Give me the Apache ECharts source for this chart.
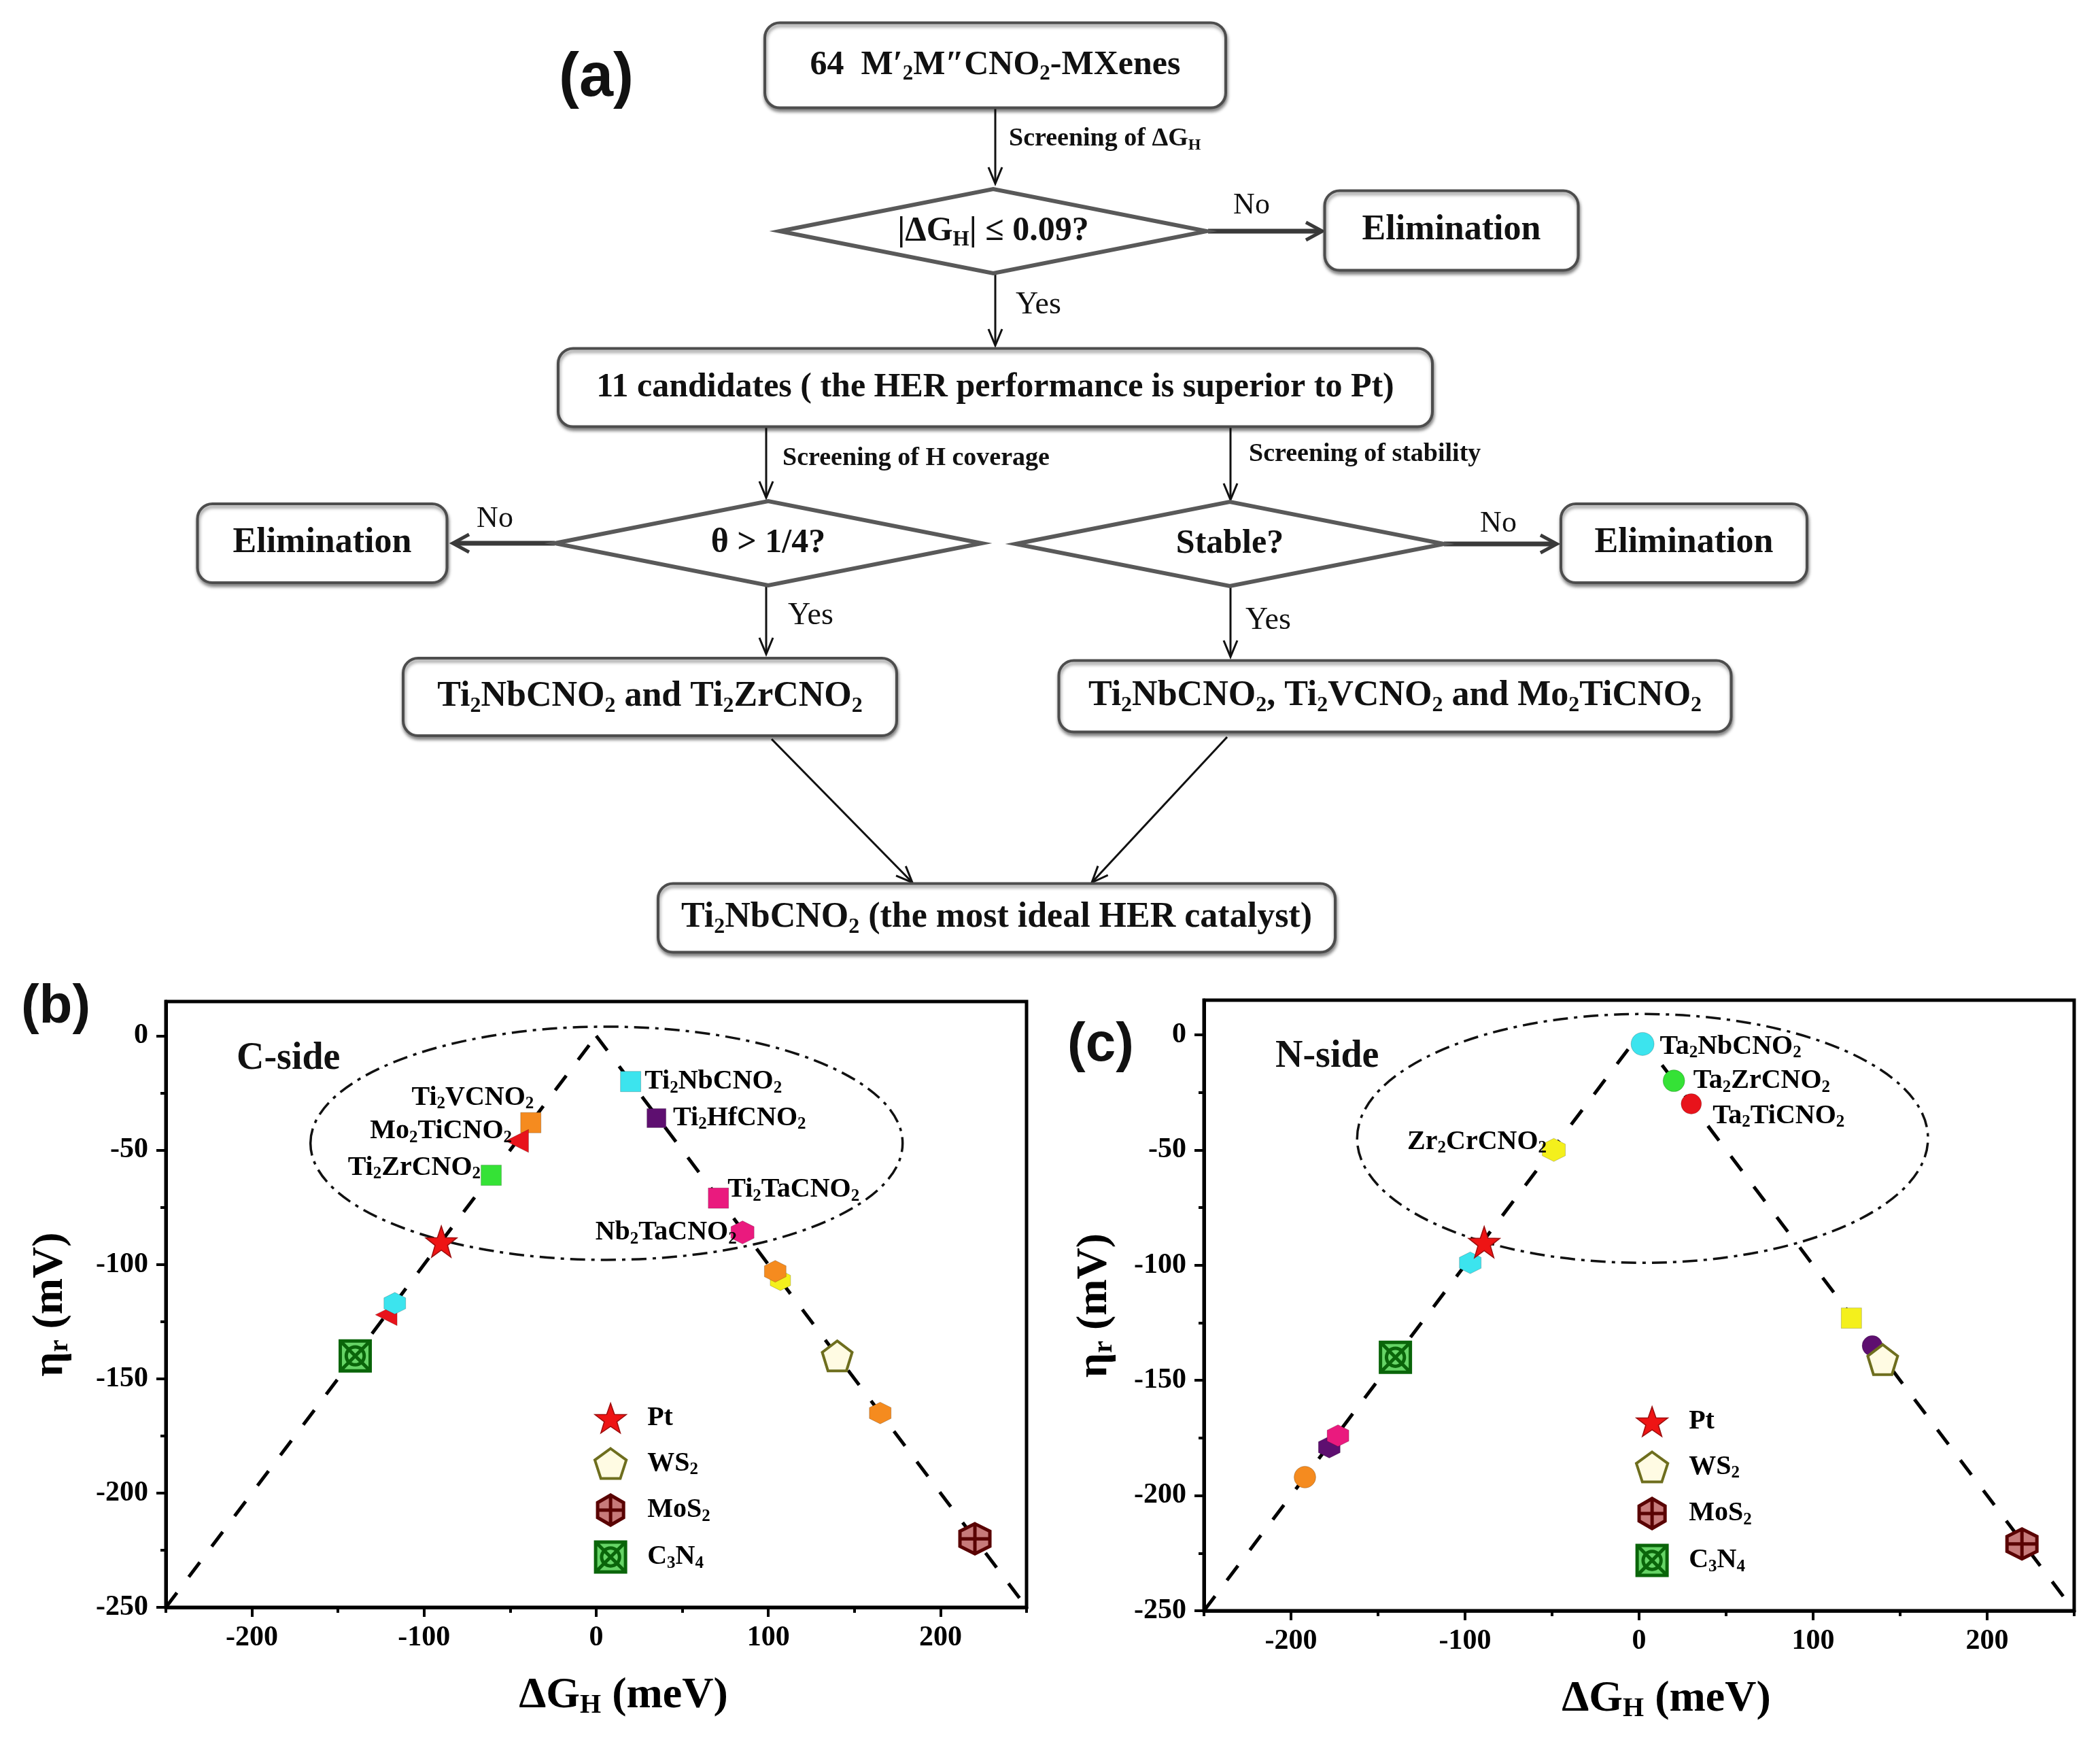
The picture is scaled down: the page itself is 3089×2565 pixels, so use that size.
<!DOCTYPE html>
<html>
<head>
<meta charset="utf-8">
<title>HER screening of MXenes</title>
<script src="https://cdn.jsdelivr.net/npm/echarts@6.0.0/dist/echarts.min.js"></script>
<style>
html,body{margin:0;padding:0;background:#ffffff;}
#main{width:3089px;height:2565px;}
</style>
</head>
<body>
<div id="main"></div>
<script>
// ================= DATA =================
const xRange = [-250, 250];
const yRange = [-250, 15];
const xTickValues = [-200, -100, 0, 100, 200];
const xMinorTickValues = [-250, -150, -50, 50, 150, 250];
const yTickValues = [-250, -200, -150, -100, -50, 0];
const yMinorTickValues = [-225, -175, -125, -75, -25];

// guide lines  eta = -|dG|
const guideLeft = [[-250, -250], [0, 0]];
const guideRight = [[0, 0], [250, -250]];

// (b) C-side
const cSideLabels = ['Ti2NbCNO2', 'Ti2HfCNO2', 'Ti2VCNO2', 'Mo2TiCNO2', 'Ti2ZrCNO2', 'Ti2TaCNO2', 'Nb2TaCNO2', '', '', '', '', ''];
const cSideDG  = [20, 35, -38, -46, -61, 71, 85, 107, 104, -122, -117, 165];
const cSideEta = [-20, -36, -38, -46, -61, -71, -86, -107, -103, -122, -117, -165];

// (c) N-side
const nSideLabels = ['Ta2NbCNO2', 'Ta2ZrCNO2', 'Ta2TiCNO2', 'Zr2CrCNO2', '', '', '', '', '', ''];
const nSideDG  = [2, 20, 30, -49, -97, -178, -173, -192, 122, 134];
const nSideEta = [-4, -20, -30, -50, -99, -179, -174, -192, -123, -135];

// reference catalysts
const refNames = ['Pt', 'WS2', 'MoS2', 'C3N4'];
const refDG_C  = [-90, 140, 220, -140];
const refEta_C = [-90, -140, -220, -140];
const refDG_N  = [-89, 140, 220, -140];
const refEta_N = [-90, -141, -221, -140];

// highlighted region (centre dG, centre eta, half-width, half-height)
const ellipseC = [6, -47, 172, 51];
const ellipseN = [2, -45, 164, 54];

// ================= STYLES =================
const FONT = 'Liberation Serif';
const C_CYAN = '#3ce4ee', C_PURPLE = '#5e0f70', C_ORANGE = '#f58b1f', C_RED = '#e8131b',
      C_GREEN = '#35e236', C_PINK = '#ea1a7e', C_YELLOW = '#f4f01c';
const P_STAR = 'path://M0,-10 L2.35,-3.24 L9.51,-3.09 L3.8,1.24 L5.88,8.09 L0,4 L-5.88,8.09 L-3.8,1.24 L-9.51,-3.09 L-2.35,-3.24 Z';
const P_PENT = 'path://M0,-10 L9.51,-3.09 L5.88,8.09 L-5.88,8.09 L-9.51,-3.09 Z';
const P_HEX = 'path://M0,-10 L8.66,-5 L8.66,5 L0,10 L-8.66,5 L-8.66,-5 Z';
const P_HEXCROSS = 'path://M0,-10 L8.66,-5 L8.66,5 L0,10 L-8.66,5 L-8.66,-5 Z M0,-10 L0,10 M-8.66,0 L8.66,0';
const P_SQX = 'path://M-10,-10 L10,-10 L10,10 L-10,10 Z M-10,-10 L10,10 M10,-10 L-10,10 M6,0 A6,6 0 1,1 -6,0 A6,6 0 1,1 6,0';
const P_TRI_L = 'path://M-10,0 L8,-9 L8,9 Z';

const cSideStyle = [
  {symbol: 'rect', size: 30, color: C_CYAN, pos: 'right', off: [0, 0]},
  {symbol: 'rect', size: 28, color: C_PURPLE, pos: 'right', off: [5, 0]},
  {symbol: 'rect', size: 30, color: C_ORANGE, pos: 'left', off: [25, -37]},
  {symbol: P_TRI_L, size: 34, color: C_RED, pos: 'left', off: [15, -14]},
  {symbol: 'rect', size: 30, color: C_GREEN, pos: 'left', off: [5, -11]},
  {symbol: 'rect', size: 30, color: C_PINK, pos: 'right', off: [-7, -12]},
  {symbol: P_HEX, size: 34, color: C_PINK, pos: 'left', off: [14, 0]},
  {symbol: P_HEX, size: 30, color: C_YELLOW},
  {symbol: P_HEX, size: 32, color: C_ORANGE},
  {symbol: P_TRI_L, size: 32, color: C_RED},
  {symbol: P_HEX, size: 32, color: C_CYAN},
  {symbol: P_HEX, size: 32, color: C_ORANGE}
];
const nSideStyle = [
  {symbol: 'circle', size: 34, color: C_CYAN, pos: 'right', off: [3, 4]},
  {symbol: 'circle', size: 32, color: C_GREEN, pos: 'right', off: [7, 0]},
  {symbol: 'circle', size: 30, color: C_RED, pos: 'right', off: [11, 18]},
  {symbol: P_HEX, size: 34, color: C_YELLOW, pos: 'left', off: [12, -12]},
  {symbol: P_HEX, size: 32, color: C_CYAN},
  {symbol: P_HEX, size: 32, color: C_PURPLE},
  {symbol: P_HEX, size: 32, color: C_PINK},
  {symbol: 'circle', size: 32, color: C_ORANGE},
  {symbol: 'rect', size: 30, color: C_YELLOW},
  {symbol: 'circle', size: 30, color: C_PURPLE}
];
const refStyle = {
  Pt:   {symbol: P_STAR, size: 46, item: {color: '#ee1414', borderColor: '#9b0d0d', borderWidth: 1.5, opacity: 1}},
  WS2:  {symbol: P_PENT, size: 44, item: {color: '#fffbe3', borderColor: '#6e6e1e', borderWidth: 4, opacity: 1}},
  MoS2: {symbol: P_HEXCROSS, size: 44, item: {color: '#c77a7a', borderColor: '#5a0303', borderWidth: 5, opacity: 1}},
  C3N4: {symbol: P_SQX, size: 44, item: {color: '#66d466', borderColor: '#0a650a', borderWidth: 5, opacity: 1}}
};

// ================= HELPERS =================
function toRich(str) {
  return str.split(/(\d+)/).filter(s => s.length).map(s => /^\d+$/.test(s) ? '{s|' + s + '}' : '{n|' + s + '}').join('');
}
function labelRich(F, color, weight) {
  return {
    n: {fontSize: F, fontFamily: FONT, fontWeight: weight || 'bold', color: color || '#000', lineHeight: Math.round(F * 1.1)},
    s: {fontSize: Math.round(F * 0.62), fontFamily: FONT, fontWeight: weight || 'bold', color: color || '#000', lineHeight: Math.round(F * 0.62), verticalAlign: 'bottom'}
  };
}
function zrRich(F, weight) {
  return {
    n: {fontSize: F, fontFamily: FONT, fontWeight: weight || 'bold', fill: '#111', lineHeight: Math.round(F * 1.15)},
    s: {fontSize: Math.round(F * 0.62), fontFamily: FONT, fontWeight: weight || 'bold', fill: '#111', lineHeight: Math.round(F * 0.62), verticalAlign: 'bottom'}
  };
}

// ================= FLOWCHART (panel a) =================
const G = [];
function txt(x, y, rich, F, align, weight) {
  return {type: 'text', x: x, y: y, z: 20,
    style: {text: rich, rich: zrRich(F, weight), align: align || 'center', verticalAlign: 'middle',
      fill: '#111', fontSize: F, fontFamily: FONT, fontWeight: weight || 'bold'}};
}
function box(cx, cy, w, h, text, F) {
  G.push({type: 'rect', z: 10, shape: {x: cx - w / 2, y: cy - h / 2, width: w, height: h, r: 22},
    style: {fill: '#fff', stroke: '#4d4d4d', lineWidth: 4, shadowColor: 'rgba(0,0,0,0.45)', shadowBlur: 5, shadowOffsetY: 4, shadowOffsetX: 1}});
  G.push(txt(cx, cy, text, F));
}
function diamond(cx, cy, hw, hh, text, F) {
  G.push({type: 'polygon', z: 10, shape: {points: [[cx - hw, cy], [cx, cy - hh], [cx + hw, cy], [cx, cy + hh]]},
    style: {fill: '#fff', stroke: '#595959', lineWidth: 6, lineJoin: 'miter'}});
  G.push(txt(cx, cy, text, F));
}
function arrow(x1, y1, x2, y2, w, col, hl, hw, hwidth) {
  const dx = x2 - x1, dy = y2 - y1, L = Math.hypot(dx, dy), ux = dx / L, uy = dy / L;
  const bx = x2 - ux * hl, by = y2 - uy * hl, px = -uy, py = ux;
  G.push({type: 'line', z: 5, shape: {x1: x1, y1: y1, x2: x2 - ux * 2, y2: y2 - uy * 2}, style: {stroke: col, lineWidth: w}});
  G.push({type: 'polyline', z: 5, shape: {points: [[bx + px * hw, by + py * hw], [x2, y2], [bx - px * hw, by - py * hw]]},
    style: {stroke: col, lineWidth: hwidth || w, fill: null, lineJoin: 'miter'}});
}
const thin = '#111', thick = '#3a3a3a';

box(1464, 96, 678, 125, '{n|64  M′}{s|2}{n|M″CNO}{s|2}{n|-MXenes}', 50);
arrow(1464, 160, 1464, 270, 3, thin, 24, 10);
G.push(txt(1484, 204, '{n|Screening of ΔG}{s|H}', 38, 'left'));
diamond(1461, 340, 314, 62, '{n||ΔG}{s|H}{n|| ≤ 0.09?}', 50);
arrow(1777, 340, 1945, 340, 7, thick, 24, 13, 5);
G.push(txt(1841, 302, '{n|No}', 44, 'center', 'normal'));
box(2135, 339, 373, 117, '{n|Elimination}', 52);
arrow(1464, 404, 1464, 508, 3, thin, 24, 10);
G.push(txt(1494, 449, '{n|Yes}', 46, 'left', 'normal'));
box(1464, 570, 1286, 115, '{n|11 candidates ( the HER performance is superior to Pt)}', 50);
arrow(1127, 628, 1127, 732, 3, thin, 24, 10);
arrow(1810, 628, 1810, 735, 3, thin, 24, 10);
G.push(txt(1151, 674, '{n|Screening of H coverage}', 38, 'left'));
G.push(txt(1837, 668, '{n|Screening of stability}', 38, 'left'));
diamond(1130, 799, 314, 62, '{n|θ > 1/4?}', 50);
diamond(1809, 800, 315, 62, '{n|Stable?}', 50);
arrow(816, 799, 666, 799, 7, thick, 24, 13, 5);
G.push(txt(728, 763, '{n|No}', 44, 'center', 'normal'));
box(474, 799, 367, 116, '{n|Elimination}', 52);
arrow(2124, 800, 2290, 800, 7, thick, 24, 13, 5);
G.push(txt(2204, 770, '{n|No}', 44, 'center', 'normal'));
box(2477, 799, 362, 116, '{n|Elimination}', 52);
arrow(1127, 863, 1127, 962, 3, thin, 24, 10);
G.push(txt(1159, 906, '{n|Yes}', 46, 'left', 'normal'));
arrow(1810, 863, 1810, 966, 3, thin, 24, 10);
G.push(txt(1832, 913, '{n|Yes}', 46, 'left', 'normal'));
box(956, 1025, 726, 114, toRich('Ti2NbCNO2 and Ti2ZrCNO2'), 52);
box(2052, 1024, 989, 105, toRich('Ti2NbCNO2, Ti2VCNO2 and Mo2TiCNO2'), 52);
arrow(1135, 1087, 1342, 1298, 3, thin, 24, 10);
arrow(1805, 1084, 1606, 1298, 3, thin, 24, 10);
box(1466, 1350, 996, 101, toRich('Ti2NbCNO2 (the most ideal HER catalyst)'), 52);

// panel letters and side tags
function panelLetter(x, y, t, F) {
  G.push({type: 'text', x: x, y: y, z: 20, style: {text: t, align: 'center', verticalAlign: 'middle',
    fill: '#111', fontSize: F, fontFamily: 'Liberation Sans', fontWeight: 'bold'}});
}
panelLetter(877, 116, '(a)', 90);
panelLetter(82, 1482, '(b)', 80);
panelLetter(1619, 1538, '(c)', 80);
G.push(txt(348, 1558, '{n|C-side}', 56, 'left'));
G.push(txt(1876, 1555, '{n|N-side}', 56, 'left'));

// ================= CHARTS (panels b, c) =================
const tickFont = {color: '#000', fontSize: 42, fontWeight: 'bold', fontFamily: FONT};
function mainX(gi) {
  return {type: 'value', gridIndex: gi, min: xRange[0], max: xRange[1], position: 'bottom',
    axisLine: {show: true, onZero: false, lineStyle: {color: '#000', width: 5}},
    axisTick: {show: true, inside: false, length: 14, customValues: xTickValues, lineStyle: {color: '#000', width: 4}},
    axisLabel: Object.assign({show: true, customValues: xTickValues, margin: 24}, tickFont),
    splitLine: {show: false}, minorTick: {show: false},
    name: '{n|ΔG}{s|H}{n| (meV)}', nameLocation: 'middle', nameGap: 95,
    nameTextStyle: {rich: labelRich(64, '#000'), padding: [0, 0, 0, 80]}};
}
function minorX(gi) {
  return {type: 'value', gridIndex: gi, min: xRange[0], max: xRange[1], position: 'bottom',
    axisLine: {show: false, onZero: false},
    axisTick: {show: true, inside: false, length: 8, customValues: xMinorTickValues, lineStyle: {color: '#000', width: 4}},
    axisLabel: {show: false}, splitLine: {show: false}};
}
function mainY(gi, gap) {
  return {type: 'value', gridIndex: gi, min: yRange[0], max: yRange[1], position: 'left',
    axisLine: {show: true, onZero: false, lineStyle: {color: '#000', width: 5}},
    axisTick: {show: true, inside: false, length: 14, customValues: yTickValues, lineStyle: {color: '#000', width: 4}},
    axisLabel: Object.assign({show: true, customValues: yTickValues, margin: 26}, tickFont),
    splitLine: {show: false}, minorTick: {show: false},
    name: '{n|η}{s|r}{n| (mV)}', nameLocation: 'middle', nameGap: gap,
    nameTextStyle: {rich: labelRich(64, '#000')}};
}
function minorY(gi) {
  return {type: 'value', gridIndex: gi, min: yRange[0], max: yRange[1], position: 'left',
    axisLine: {show: false, onZero: false},
    axisTick: {show: true, inside: false, length: 8, customValues: yMinorTickValues, lineStyle: {color: '#000', width: 4}},
    axisLabel: {show: false}, splitLine: {show: false}};
}

function guideSeries(ai, data) {
  return {type: 'line', xAxisIndex: ai, yAxisIndex: ai, data: data, symbol: 'none', showSymbol: false,
    lineStyle: {color: '#000', width: 5, type: [27, 29]}, silent: true, z: 2, animation: false};
}
function ellipseSeries(ai, e) {
  return {type: 'custom', xAxisIndex: ai, yAxisIndex: ai, data: [e], silent: true, clip: false, z: 2,
    renderItem: function (params, api) {
      const c = api.coord([api.value(0), api.value(1)]);
      const s = api.size([api.value(2), api.value(3)]);
      return {type: 'ellipse', shape: {cx: c[0], cy: c[1], rx: s[0], ry: s[1]},
        style: {fill: 'none', stroke: '#111', lineWidth: 3.5, lineDash: [22, 9, 5, 9]}};
    }};
}
function mxSeries(ai, dg, eta, labels, styles) {
  return {type: 'scatter', xAxisIndex: ai, yAxisIndex: ai, z: 5, animation: false,
    label: {show: false, formatter: p => labels[p.dataIndex] ? toRich(labels[p.dataIndex]) : '', rich: labelRich(40, '#000')},
    data: dg.map((v, i) => {
      const st = styles[i];
      const item = {value: [v, eta[i]], symbol: st.symbol, symbolSize: st.size,
        itemStyle: {color: st.color, borderColor: 'rgba(0,0,0,0.2)', borderWidth: 1, opacity: 1}};
      if (labels[i]) item.label = {show: true, position: st.pos, offset: st.off, distance: 5};
      return item;
    })};
}
function refSeries(ai, dg, eta) {
  return refNames.map((nm, i) => ({type: 'scatter', name: nm, xAxisIndex: ai, yAxisIndex: ai, z: 6, animation: false,
    data: [[dg[i], eta[i]]], symbol: refStyle[nm].symbol, symbolSize: refStyle[nm].size, itemStyle: refStyle[nm].item}));
}
function legendCfg(left, top) {
  return {show: true, orient: 'vertical', left: left, top: top, itemWidth: 98, itemHeight: 44, itemGap: 20,
    selectedMode: false, symbolKeepAspect: true,
    data: refNames.map(nm => ({name: nm, icon: refStyle[nm].symbol,
      itemStyle: {borderWidth: refStyle[nm].item.borderWidth, opacity: 1}})),
    formatter: n => toRich(n), textStyle: {rich: labelRich(40, '#000')}};
}

const option = {
  backgroundColor: '#ffffff',
  animation: false,
  textStyle: {fontFamily: FONT},
  graphic: G,
  grid: [
    {left: 244, top: 1473, width: 1266, height: 891, show: true, borderColor: '#000', borderWidth: 5, backgroundColor: 'rgba(0,0,0,0)', containLabel: false, outerBoundsMode: 'none'},
    {left: 1771, top: 1471, width: 1280, height: 898, show: true, borderColor: '#000', borderWidth: 5, backgroundColor: 'rgba(0,0,0,0)', containLabel: false, outerBoundsMode: 'none'}
  ],
  xAxis: [mainX(0), minorX(0), mainX(1), minorX(1)],
  yAxis: [mainY(0, 135), minorY(0), mainY(1, 126), minorY(1)],
  legend: [legendCfg(868, 2058), legendCfg(2400, 2063)],
  series: [].concat(
    [guideSeries(0, guideLeft), guideSeries(0, guideRight), ellipseSeries(0, ellipseC),
     mxSeries(0, cSideDG, cSideEta, cSideLabels, cSideStyle)],
    refSeries(0, refDG_C, refEta_C),
    [guideSeries(2, guideLeft), guideSeries(2, guideRight), ellipseSeries(2, ellipseN),
     mxSeries(2, nSideDG, nSideEta, nSideLabels, nSideStyle)],
    refSeries(2, refDG_N, refEta_N)
  )
};
const chart = echarts.init(document.getElementById('main'), null, {renderer: 'canvas'});
chart.setOption(option);
</script>
</body>
</html>
